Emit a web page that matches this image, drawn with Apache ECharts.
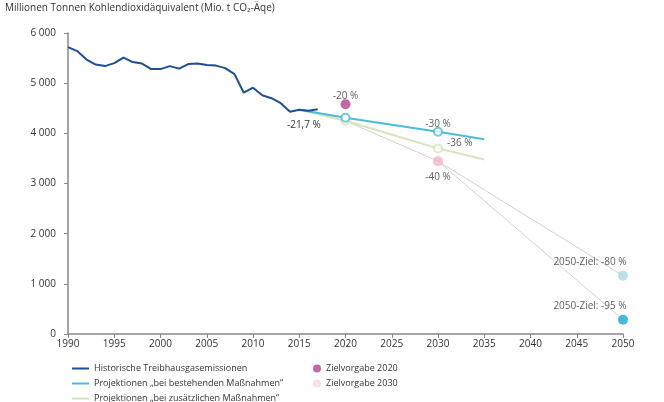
<!DOCTYPE html>
<html><head><meta charset="utf-8">
<script src="https://cdn.jsdelivr.net/npm/echarts@6/dist/echarts.min.js"></script>
<style>html,body{margin:0;padding:0;background:#fff}#c{width:664px;height:402px}</style>
</head><body><div id="c"></div>
<script>
const histYears = [1990,1991,1992,1993,1994,1995,1996,1997,1998,1999,2000,2001,2002,2003,2004,2005,2006,2007,2008,2009,2010,2011,2012,2013,2014,2015,2016,2017];
const histValues = [5720,5640,5470,5370,5340,5400,5510,5420,5390,5280,5280,5340,5290,5380,5390,5360,5350,5300,5180,4810,4910,4760,4700,4600,4430,4470,4450,4480];
const wemYears = [2015,2020,2030,2035];
const wemValues = [4470,4310,4030,3880];
const wamYears = [2015,2020,2030,2035];
const wamValues = [4470,4250,3700,3480];
const markerYears = [2020,2030];
const target2020 = [2020,4580];
const target2030 = [2030,3446];
const target2050a = [2050,1161];
const target2050b = [2050,285];
const yTicks = [0,1000,2000,3000,4000,5000,6000];

const font = 'Open Sans';
const txt = '#333';
function pair(xs, ys){ return xs.map((x,i)=>[x,ys[i]]); }
function pick(xs, ys, keep){ return xs.map((x,i)=>[x,ys[i]]).filter(p=>keep.includes(p[0])); }
function fmt(v){ return v>=1000 ? Math.floor(v/1000)+' '+String(v%1000).padStart(3,'0') : String(v); }

const chart = echarts.init(document.getElementById('c'));
const lbl = (pos, text, extra) => Object.assign({show:true, position:pos, formatter:text, color:txt, fontSize:10, fontFamily:font}, extra||{});

chart.setOption({
  animation:false,
  textStyle:{fontFamily:font},
  title:{text:'Millionen Tonnen Kohlendioxidäquivalent (Mio. t CO₂-Äqe)', left:0, top:-2,
    textStyle:{fontSize:10, fontWeight:'normal', color:txt, fontFamily:font}},
  grid:{left:68, right:41, top:33, bottom:68},
  xAxis:{type:'value', min:1990, max:2050, interval:5,
    axisLine:{lineStyle:{color:'#888', width:1.5}}, axisTick:{show:true, length:4, lineStyle:{color:'#888'}},
    splitLine:{show:false}, axisLabel:{color:txt, fontSize:10, fontFamily:font, margin:5, formatter:v=>String(v)}},
  yAxis:{type:'value', min:0, max:6000, interval:1000,
    axisLine:{show:true, lineStyle:{color:'#888', width:1.5}}, axisTick:{show:true, length:4, lineStyle:{color:'#888'}},
    splitLine:{show:false}, axisLabel:{color:txt, fontSize:10, fontFamily:font, margin:12, formatter:v=>yTicks.includes(v)?fmt(v):''}},
  legend:[
    {orient:'vertical', left:71, top:364, padding:0, height:60, itemWidth:17, itemHeight:2, itemGap:6,
     textStyle:{fontSize:9, color:txt, fontFamily:font},
     data:['Historische Treibhausgasemissionen','Projektionen „bei bestehenden Maßnahmen“','Projektionen „bei zusätzlichen Maßnahmen“']},
    {orient:'vertical', left:313, top:364, padding:0, height:40, itemWidth:8, itemHeight:8, itemGap:6,
     textStyle:{fontSize:9, color:txt, fontFamily:font},
     data:[{name:'Zielvorgabe 2020', icon:'circle'},{name:'Zielvorgabe 2030', icon:'circle', itemStyle:{color:'#f9d6e2'}}]}
  ],
  series:[
    {type:'line', name:'Projektionen „bei zusätzlichen Maßnahmen“', data:pair(wamYears,wamValues), symbol:'none', legendIcon:'rect',
     lineStyle:{color:'#d4e5bb', width:2}, itemStyle:{color:'#d4e5bb'}, z:2},
    {type:'line', name:'Projektionen „bei bestehenden Maßnahmen“', data:pair(wemYears,wemValues), symbol:'none', legendIcon:'rect',
     lineStyle:{color:'#4dbbd5', width:2}, itemStyle:{color:'#4dbbd5'}, z:3},
    {type:'line', name:'Historische Treibhausgasemissionen', data:pair(histYears,histValues), symbol:'none', legendIcon:'rect',
     lineStyle:{color:'#1f4e93', width:2}, itemStyle:{color:'#1f4e93'}, z:4,
     markPoint:{symbol:'circle', symbolSize:0, data:[{coord:[2015.5,4450], label:lbl('bottom','-21,7 %',{offset:[0,4]})}]}},
    {type:'line', name:'Pfad', data:[[wamYears[1],wamValues[1]], target2030, target2050a], symbol:'none',
     lineStyle:{color:'#d0d0d0', width:1}, z:1, silent:true},
    {type:'line', name:'Pfad2', data:[target2030, target2050b], symbol:'none',
     lineStyle:{color:'#d0d0d0', width:1}, z:1, silent:true},
    {type:'scatter', name:'WEMmarks', data:pick(wemYears,wemValues,markerYears), symbol:'circle', symbolSize:8,
     itemStyle:{color:'#fff', borderColor:'#4dbbd5', borderWidth:2}, z:6,
     label:{show:true, position:'top', distance:2, offset:[0,4], color:txt, fontSize:10, fontFamily:font,
       formatter:p=>p.value[0]===2030?'-30 %':''}},
    {type:'scatter', name:'WAMmarks', data:pick(wamYears,wamValues,markerYears), symbol:'circle', symbolSize:8,
     itemStyle:{color:'#fff', borderColor:'#d4e5bb', borderWidth:2}, z:5,
     label:{show:true, position:'right', offset:[0,-5], distance:4, color:txt, fontSize:10, fontFamily:font,
       formatter:p=>p.value[0]===2030?'-36 %':''}},
    {type:'scatter', name:'Zielvorgabe 2020', data:[target2020], symbol:'circle', symbolSize:10,
     itemStyle:{color:'#b7418d'}, z:6, label:lbl('top','-20 %',{distance:1, offset:[0,3]})},
    {type:'scatter', name:'Zielvorgabe 2030', data:[target2030], symbol:'circle', symbolSize:10,
     itemStyle:{color:'#f3b3c8'}, z:6, label:lbl('bottom','-40 %',{distance:6})},
    {type:'scatter', name:'Ziel2050a', data:[target2050a], symbol:'circle', symbolSize:10,
     itemStyle:{color:'#a9dbe3'}, z:6, label:lbl('top','2050-Ziel: -80 %',{distance:4, offset:[-33,0]})},
    {type:'scatter', name:'Ziel2050b', data:[target2050b], symbol:'circle', symbolSize:10,
     itemStyle:{color:'#1ea4d2'}, z:6, label:lbl('top','2050-Ziel: -95 %',{distance:4, offset:[-33,0]})}
  ]
});
</script></body></html>
